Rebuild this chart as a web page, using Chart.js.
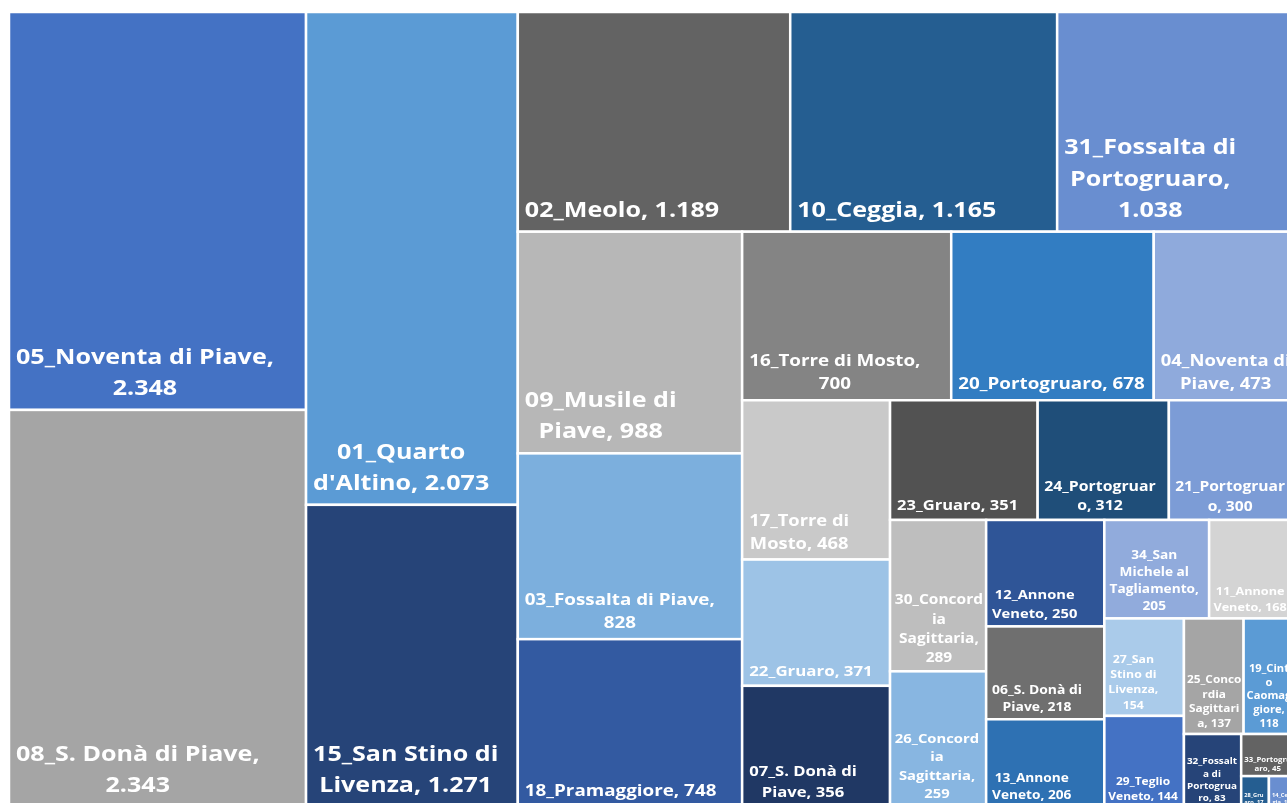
<!DOCTYPE html>
<html lang="it">
<head>
<meta charset="utf-8">
<title>Treemap comuni</title>
<script src="https://cdn.jsdelivr.net/npm/chart.js@4.4.1/dist/chart.umd.min.js"></script>
<style>
    html, body { margin: 0; padding: 0; background: #ffffff; overflow: hidden; }
    #wrap { width: 1300px; height: 812px; }
</style>
</head>
<body>
<div id="wrap"><canvas id="treemap" width="1300" height="812"></canvas></div>
<script>
// Categories and values, sorted by value (as in the original chart)
const NAMES = [
    '05_Noventa di Piave', '08_S. Donà di Piave', "01_Quarto d'Altino", '15_San Stino di Livenza',
    '02_Meolo', '10_Ceggia', '31_Fossalta di Portogruaro', '09_Musile di Piave',
    '03_Fossalta di Piave', '18_Pramaggiore', '16_Torre di Mosto', '20_Portogruaro',
    '04_Noventa di Piave', '17_Torre di Mosto', '22_Gruaro', '07_S. Donà di Piave',
    '23_Gruaro', '24_Portogruaro', '21_Portogruaro', '30_Concordia Sagittaria',
    '26_Concordia Sagittaria', '12_Annone Veneto', '06_S. Donà di Piave', '13_Annone Veneto',
    '34_San Michele al Tagliamento', '11_Annone Veneto', '27_San Stino di Livenza', '29_Teglio Veneto',
    '25_Concordia Sagittaria', '19_Cinto Caomaggiore', '32_Fossalta di Portogruaro', '33_Portogruaro',
    '28_Gruaro', '14_Ceggia'
];
const VALUES = [
    2348, 2343, 2073, 1271,
    1189, 1165, 1038, 988,
    828, 748, 700, 678,
    473, 468, 371, 356,
    351, 312, 300, 289,
    259, 250, 218, 206,
    205, 168, 154, 144,
    137, 118, 83, 45,
    17, 16
];

// Office palette, cycled in value order
const PALETTE = [
    '#4472C4', '#A5A5A5', '#5B9BD5', '#264478', '#636363', '#255E91', '#698ED0', '#B7B7B7', '#7CAFDD',
    '#335AA1', '#848484', '#327DC2', '#8FAADC', '#C9C9C9', '#9DC3E6', '#203864', '#525252', '#1F4E79',
    '#7C9CD6', '#BEBEBE', '#88B6E1', '#2F5597', '#6F6F6F', '#2E71B3', '#91ABDC', '#D4D4D4', '#AACBEA'
];

// keep adding to a strip while the last cell is still longer than this along the strip
const STRIP_STRETCH = 1.5;
// labels in the original look horizontally stretched
const TEXT_STRETCH = 1.14;

function fmtValue(v) {
    return String(v).replace(/\B(?=(\d{3})+(?!\d))/g, '.');
}

// squarified-style strips in a w x h unit box, returns rects in the same units
function layoutTreemap(values, w, h) {
    const total = values.reduce((a, b) => a + b, 0);
    const k = (w * h) / total;
    const rects = [];
    let rx = 0, ry = 0, rw = w, rh = h;
    let i = 0;
    while (i < values.length) {
        const vertical = rw >= rh;
        const side = vertical ? rh : rw;
        let n = 1;
        let sum = values[i];
        while (i + n < values.length) {
            const t = sum * k / side;
            const lastLen = values[i + n - 1] * k / t;
            if (lastLen / t <= STRIP_STRETCH) break;
            sum += values[i + n];
            n++;
        }
        const t = sum * k / side;
        let off = 0;
        for (let j = 0; j < n; j++) {
            const len = values[i + j] * k / t;
            if (vertical) rects.push({ x: rx, y: ry + off, w: t, h: len });
            else rects.push({ x: rx + off, y: ry, w: len, h: t });
            off += len;
        }
        if (vertical) { rx += t; rw -= t; } else { ry += t; rh -= t; }
        i += n;
    }
    return rects;
}

function wrapText(ctx, text, maxW) {
    const words = text.split(' ');
    const lines = [];
    let cur = '';
    for (const word of words) {
        const test = cur ? cur + ' ' + word : word;
        if (ctx.measureText(test).width <= maxW) { cur = test; continue; }
        if (cur) { lines.push(cur); cur = ''; }
        if (ctx.measureText(word).width <= maxW) { cur = word; continue; }
        // word too long: break it by characters
        let part = '';
        for (const ch of word) {
            if (part && ctx.measureText(part + ch).width > maxW) { lines.push(part); part = ch; }
            else part += ch;
        }
        cur = part;
    }
    if (cur) lines.push(cur);
    return lines;
}

function labelFontSize(w, h) {
    const area = w * h;
    if (area >= 48000) return 22;
    return Math.max(5, Math.min(16.5, 0.43 * Math.pow(area, 0.36)));
}

const treemapPlugin = {
    id: 'treemapCells',
    beforeDatasetsDraw(chart) {
        const { ctx, chartArea, scales } = chart;
        const aspect = (chartArea.right - chartArea.left) / (chartArea.bottom - chartArea.top);
        const rects = layoutTreemap(VALUES, aspect, 1);
        const xs = scales.x, ys = scales.y;

        ctx.save();
        rects.forEach((r, idx) => {
            const x0 = xs.getPixelForValue(r.x / aspect);
            const x1 = xs.getPixelForValue((r.x + r.w) / aspect);
            const y0 = ys.getPixelForValue(r.y);
            const y1 = ys.getPixelForValue(r.y + r.h);
            const w = x1 - x0, h = y1 - y0;

            ctx.fillStyle = PALETTE[idx % PALETTE.length];
            ctx.fillRect(x0, y0, w, h);
            ctx.strokeStyle = '#ffffff';
            ctx.lineWidth = 2.5;
            ctx.strokeRect(x0, y0, w, h);

            // label: name, value
            const size = labelFontSize(w, h);
            ctx.font = `bold ${size.toFixed(1)}px "Open Sans", Lato, sans-serif`;
            const padL = Math.min(7, Math.max(3, w * 0.05));
            const padR = Math.min(4, Math.max(2, w * 0.03));
            const maxW = (w - padL - padR) / TEXT_STRETCH;
            const lineH = size * 1.42;
            let lines = wrapText(ctx, NAMES[idx] + ', ' + fmtValue(VALUES[idx]), maxW);
            const maxLines = Math.max(1, Math.floor((h - 10) / lineH));
            if (lines.length > maxLines) {
                lines = lines.slice(0, maxLines);
                let last = lines[maxLines - 1];
                while (last.length > 1 && ctx.measureText(last + '...').width > maxW) last = last.slice(0, -1);
                lines[maxLines - 1] = last + '...';
            }
            const blockW = Math.max(...lines.map(l => ctx.measureText(l).width)) * TEXT_STRETCH;
            const cx = x0 + padL + blockW / 2;
            const baseBottom = y1 - size * 0.68;
            ctx.fillStyle = '#ffffff';
            ctx.textAlign = 'center';
            ctx.textBaseline = 'alphabetic';
            lines.forEach((line, li) => {
                ctx.save();
                ctx.translate(cx, baseBottom - (lines.length - 1 - li) * lineH);
                ctx.scale(TEXT_STRETCH, 1);
                ctx.fillText(line, 0, 0);
                ctx.restore();
            });
        });
        ctx.restore();
    }
};

document.fonts.load('bold 20px "Open Sans"').finally(() => {
    new Chart(document.getElementById('treemap'), {
        type: 'scatter',
        data: { datasets: [{ data: [] }] },
        options: {
            responsive: false,
            animation: false,
            layout: { padding: { left: 9, top: 12, right: 5, bottom: 5 } },
            plugins: {
                legend: { display: false },
                tooltip: { enabled: false }
            },
            scales: {
                x: { type: 'linear', display: false, min: 0, max: 1 },
                y: { type: 'linear', display: false, min: 0, max: 1, reverse: true }
            }
        },
        plugins: [treemapPlugin]
    });
});
</script>
</body>
</html>
